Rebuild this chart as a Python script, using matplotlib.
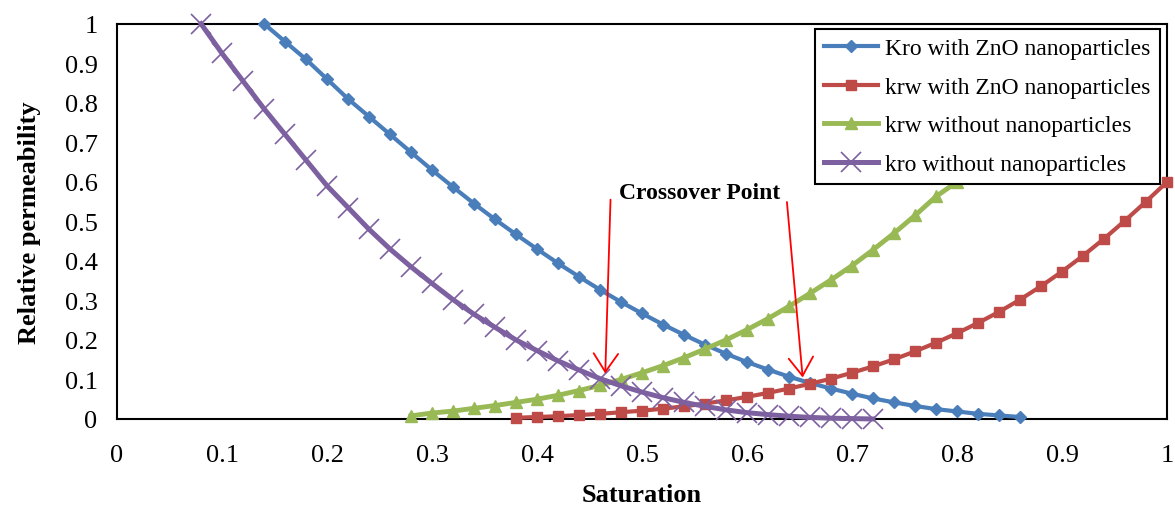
import numpy as np
import matplotlib
matplotlib.use("Agg")
import matplotlib.pyplot as plt
from matplotlib.ticker import FuncFormatter

# Kro with ZnO nanoparticles
s_kro_zno = [0.14, 0.16, 0.18, 0.20, 0.22, 0.24, 0.26, 0.28, 0.30, 0.32, 0.34, 0.36, 0.38,
             0.40, 0.42, 0.44, 0.46, 0.48, 0.50, 0.52, 0.54, 0.56, 0.58, 0.60, 0.62, 0.64,
             0.66, 0.68, 0.70, 0.72, 0.74, 0.76, 0.78, 0.80, 0.82, 0.84, 0.86]
kro_zno = [1.0, 0.955, 0.91, 0.86, 0.81, 0.765, 0.72, 0.675, 0.63, 0.587, 0.545, 0.505, 0.467,
           0.43, 0.394, 0.36, 0.327, 0.296, 0.267, 0.239, 0.213, 0.188, 0.165, 0.144, 0.125, 0.107,
           0.091, 0.077, 0.064, 0.052, 0.042, 0.033, 0.025, 0.019, 0.013, 0.009, 0.005]

# krw with ZnO nanoparticles
s_krw_zno = [0.38, 0.40, 0.42, 0.44, 0.46, 0.48, 0.50, 0.52, 0.54, 0.56, 0.58, 0.60, 0.62, 0.64,
             0.66, 0.68, 0.70, 0.72, 0.74, 0.76, 0.78, 0.80, 0.82, 0.84, 0.86, 0.88, 0.90, 0.92,
             0.94, 0.96, 0.98, 1.00]
krw_zno = [0.003, 0.005, 0.007, 0.010, 0.013, 0.017, 0.021, 0.026, 0.032, 0.039, 0.047, 0.056,
           0.066, 0.077, 0.089, 0.102, 0.117, 0.133, 0.151, 0.171, 0.193, 0.217, 0.243, 0.271,
           0.302, 0.336, 0.373, 0.413, 0.456, 0.502, 0.550, 0.600]

# krw without nanoparticles
s_krw = [0.28, 0.30, 0.32, 0.34, 0.36, 0.38, 0.40, 0.42, 0.44, 0.46, 0.48, 0.50, 0.52, 0.54,
         0.56, 0.58, 0.60, 0.62, 0.64, 0.66, 0.68, 0.70, 0.72, 0.74, 0.76, 0.78, 0.80]
krw = [0.008, 0.015, 0.020, 0.027, 0.034, 0.042, 0.050, 0.060, 0.072, 0.085, 0.100, 0.117,
       0.135, 0.155, 0.177, 0.200, 0.226, 0.254, 0.285, 0.318, 0.352, 0.388, 0.428, 0.470,
       0.515, 0.563, 0.600]

# kro without nanoparticles
s_kro = [0.08, 0.10, 0.12, 0.14, 0.16, 0.18, 0.20, 0.22, 0.24, 0.26, 0.28, 0.30, 0.32, 0.34,
         0.36, 0.38, 0.40, 0.42, 0.44, 0.46, 0.48, 0.50, 0.52, 0.54, 0.56, 0.58, 0.60, 0.62,
         0.64, 0.66, 0.68, 0.70, 0.72]
kro = [1.0, 0.925, 0.855, 0.785, 0.72, 0.655, 0.59, 0.535, 0.48, 0.43, 0.385, 0.343, 0.302,
       0.265, 0.232, 0.200, 0.173, 0.147, 0.124, 0.102, 0.084, 0.068, 0.054, 0.042, 0.032,
       0.023, 0.016, 0.011, 0.007, 0.004, 0.002, 0.001, 0.0]

plt.rcParams['font.family'] = ['Liberation Serif', 'DejaVu Serif']

fig = plt.figure(figsize=(11.75, 5.06), dpi=100)
ax = fig.add_axes([0.0996, 0.170, 0.8936, 0.781])

ax.plot(s_kro_zno, kro_zno, color='#4A7EBB', lw=3, marker='D', ms=6.5,
        label='Kro with ZnO nanoparticles', clip_on=False, zorder=3)
ax.plot(s_krw_zno, krw_zno, color='#BE4B48', lw=3, marker='s', ms=6.5,
        label='krw with ZnO nanoparticles', clip_on=False, zorder=3)
ax.plot(s_krw, krw, color='#98B954', lw=3.5, marker='^', ms=9,
        label='krw without nanoparticles', clip_on=False, zorder=3)
ax.plot(s_kro, kro, color='#7D60A0', lw=3.6, marker='x', ms=14, mew=1.2,
        label='kro without nanoparticles', clip_on=False, zorder=3)

ax.set_xlim(0, 1)
ax.set_ylim(0, 1)
ax.set_xticks(np.arange(0, 1.01, 0.1))
ax.set_yticks(np.arange(0, 1.01, 0.1))
fmt = FuncFormatter(lambda v, p: '%g' % round(v, 1))
ax.xaxis.set_major_formatter(fmt)
ax.yaxis.set_major_formatter(fmt)
ax.tick_params(axis='both', length=0, labelsize=19)
ax.tick_params(axis='x', pad=18)
ax.tick_params(axis='y', pad=14)
for sp in ax.spines.values():
    sp.set_linewidth(1.5)
    sp.set_color('black')

ax.set_xlabel('Saturation', fontsize=19, fontweight='bold', labelpad=12)
ax.set_ylabel('Relative permeability', fontsize=19, fontweight='bold', labelpad=17)

# crossover annotation
ax.text(0.555, 0.572, 'Crossover Point', ha='center', va='center',
        fontsize=17, fontweight='bold')
arrow = dict(arrowstyle='->,head_length=0.6,head_width=0.4', color='red', lw=1.3,
             mutation_scale=22, shrinkA=0, shrinkB=0)
ax.annotate('', xy=(0.465, 0.115), xytext=(0.470, 0.555), arrowprops=arrow)
ax.annotate('', xy=(0.653, 0.105), xytext=(0.638, 0.549), arrowprops=arrow)

leg = ax.legend(loc='upper right', bbox_to_anchor=(0.993, 0.987), borderaxespad=0,
                fontsize=17, frameon=True, fancybox=False, framealpha=1,
                handlelength=2.3, numpoints=1, labelspacing=0.72,
                handletextpad=0.3, borderpad=0.38)
leg.get_frame().set_edgecolor('black')
leg.get_frame().set_linewidth(1.5)

fig.savefig('out.png', dpi=100)
